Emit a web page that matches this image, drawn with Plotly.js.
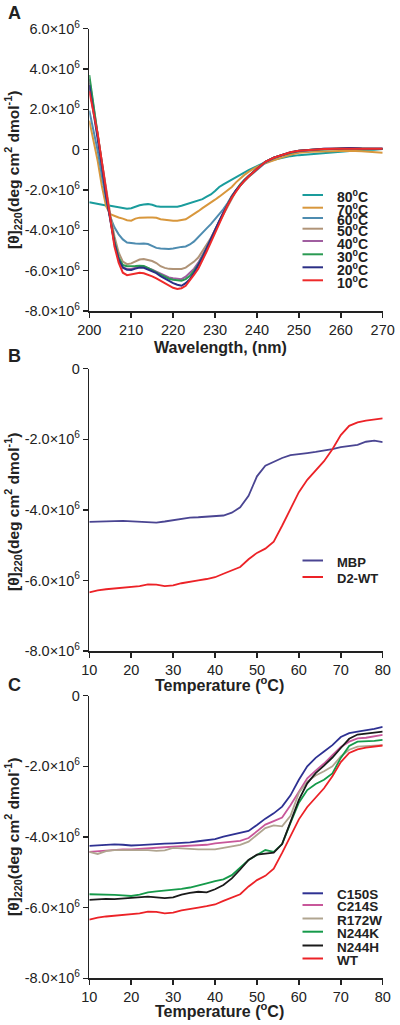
<!DOCTYPE html>
<html>
<head>
<meta charset="utf-8">
<script src="https://cdn.plot.ly/plotly-3.0.1.min.js"></script>
<style>html,body{margin:0;padding:0;background:#fff;}#chart{width:400px;height:1025px;}</style>
</head>
<body>
<div id="chart"></div>
<script>
// ---------- Panel A: CD spectra (units of 10^6 deg cm2 dmol-1) ----------
const wavelength = [200,201,202,203,204,205,206,207,208,209,210,211,212,213,214,215,216,217,218,219,220,221,222,223,224,225,226,227,228,229,230,231,232,233,234,235,236,237,238,240,242,244,246,248,250,253,256,259,262,265,268,270];
const spec80 = [-2.61,-2.65,-2.72,-2.75,-2.77,-2.78,-2.82,-2.85,-2.88,-2.93,-2.90,-2.82,-2.76,-2.72,-2.70,-2.73,-2.80,-2.83,-2.83,-2.84,-2.86,-2.83,-2.78,-2.72,-2.66,-2.60,-2.53,-2.45,-2.33,-2.22,-2.05,-1.85,-1.72,-1.60,-1.48,-1.35,-1.24,-1.12,-1.02,-0.82,-0.62,-0.50,-0.40,-0.32,-0.27,-0.22,-0.15,-0.10,-0.05,-0.02,0.00,0.03];
const spec70 = [1.44,0.45,-0.55,-1.80,-2.80,-3.20,-3.30,-3.36,-3.42,-3.50,-3.52,-3.42,-3.37,-3.35,-3.36,-3.36,-3.38,-3.45,-3.48,-3.50,-3.52,-3.52,-3.50,-3.45,-3.32,-3.20,-3.05,-2.90,-2.77,-2.63,-2.48,-2.33,-2.18,-2.03,-1.85,-1.62,-1.42,-1.25,-1.10,-0.85,-0.68,-0.52,-0.38,-0.25,-0.15,-0.10,-0.08,-0.05,-0.05,-0.08,-0.10,-0.15];
const spec60 = [1.94,0.95,-0.05,-1.30,-2.45,-3.35,-3.85,-4.20,-4.45,-4.60,-4.64,-4.65,-4.66,-4.65,-4.68,-4.78,-4.87,-4.90,-4.93,-4.93,-4.90,-4.85,-4.82,-4.80,-4.70,-4.55,-4.35,-4.12,-3.90,-3.69,-3.45,-3.20,-2.95,-2.65,-2.30,-2.03,-1.78,-1.55,-1.35,-1.00,-0.65,-0.42,-0.28,-0.15,-0.08,-0.03,0.02,0.03,0.05,0.03,0.05,0.05];
const spec50 = [3.30,2.00,0.60,-0.70,-2.00,-3.20,-4.30,-5.10,-5.55,-5.68,-5.64,-5.55,-5.45,-5.42,-5.46,-5.52,-5.62,-5.78,-5.86,-5.91,-5.92,-5.92,-5.92,-5.85,-5.72,-5.55,-5.35,-5.05,-4.70,-4.38,-4.00,-3.60,-3.20,-2.80,-2.40,-2.05,-1.78,-1.55,-1.35,-0.98,-0.62,-0.42,-0.28,-0.15,-0.06,-0.02,0.03,0.05,0.05,0.06,0.05,0.05];
const spec40 = [3.50,2.10,0.77,-0.70,-2.20,-3.40,-4.60,-5.40,-5.82,-5.92,-5.92,-5.86,-5.81,-5.80,-5.86,-5.95,-6.05,-6.15,-6.25,-6.34,-6.38,-6.40,-6.42,-6.30,-6.12,-5.90,-5.60,-5.25,-4.85,-4.40,-3.95,-3.50,-3.10,-2.70,-2.30,-2.00,-1.72,-1.50,-1.30,-0.96,-0.60,-0.40,-0.26,-0.14,-0.06,-0.01,0.05,0.06,0.08,0.05,0.06,0.05];
const spec30 = [3.70,2.20,0.80,-0.70,-2.20,-3.40,-4.55,-5.35,-5.72,-5.78,-5.79,-5.77,-5.75,-5.77,-5.86,-5.95,-6.08,-6.20,-6.30,-6.40,-6.45,-6.48,-6.50,-6.42,-6.25,-6.00,-5.70,-5.30,-4.90,-4.45,-4.00,-3.55,-3.12,-2.72,-2.32,-2.00,-1.72,-1.50,-1.30,-0.95,-0.60,-0.40,-0.26,-0.14,-0.05,0.00,0.04,0.05,0.06,0.04,0.05,0.04];
const spec20 = [3.20,1.90,0.60,-0.80,-2.30,-3.50,-4.65,-5.45,-5.85,-5.95,-5.97,-5.90,-5.84,-5.86,-5.95,-6.02,-6.12,-6.27,-6.40,-6.52,-6.62,-6.70,-6.75,-6.62,-6.42,-6.10,-5.75,-5.35,-4.90,-4.43,-3.98,-3.55,-3.12,-2.72,-2.35,-2.02,-1.75,-1.52,-1.32,-0.96,-0.60,-0.40,-0.26,-0.13,-0.05,0.00,0.05,0.05,0.08,0.06,0.04,0.05];
const spec10 = [2.90,1.90,0.80,-0.60,-2.00,-3.50,-4.80,-5.60,-6.10,-6.22,-6.18,-6.12,-6.10,-6.13,-6.20,-6.28,-6.38,-6.50,-6.62,-6.76,-6.85,-6.91,-6.87,-6.75,-6.50,-6.20,-5.90,-5.50,-5.05,-4.60,-4.12,-3.62,-3.15,-2.75,-2.38,-2.05,-1.78,-1.55,-1.33,-0.96,-0.60,-0.40,-0.26,-0.13,-0.05,0.00,0.03,0.05,0.06,0.05,0.05,0.05];
const specLabels = ['80<sup>0</sup>C','70<sup>0</sup>C','60<sup>0</sup>C','50<sup>0</sup>C','40<sup>0</sup>C','30<sup>0</sup>C','20<sup>0</sup>C','10<sup>0</sup>C'];

// ---------- Panels B and C: thermal melts at 220 nm ----------
const temperature = [10,12,14,16,18,20,22,24,26,28,30,32,34,36,38,40,42,44,46,48,50,52,54,56,58,60,62,64,66,68,70,72,74,76,78,80];
const mbp   = [-4.34,-4.34,-4.33,-4.32,-4.31,-4.32,-4.34,-4.36,-4.36,-4.33,-4.29,-4.24,-4.22,-4.21,-4.20,-4.18,-4.16,-4.08,-3.93,-3.60,-3.05,-2.75,-2.63,-2.53,-2.45,-2.41,-2.39,-2.36,-2.33,-2.28,-2.22,-2.20,-2.16,-2.07,-2.04,-2.08];
const d2wt  = [-6.34,-6.28,-6.25,-6.23,-6.20,-6.18,-6.16,-6.11,-6.12,-6.16,-6.14,-6.08,-6.05,-6.00,-5.96,-5.91,-5.81,-5.72,-5.62,-5.40,-5.22,-5.10,-4.90,-4.45,-3.98,-3.50,-3.15,-2.90,-2.62,-2.28,-1.88,-1.62,-1.52,-1.47,-1.43,-1.41];
const c150s = [-4.25,-4.23,-4.21,-4.21,-4.22,-4.24,-4.23,-4.21,-4.20,-4.19,-4.18,-4.17,-4.15,-4.12,-4.10,-4.06,-3.99,-3.93,-3.89,-3.83,-3.66,-3.48,-3.33,-3.14,-2.82,-2.38,-2.00,-1.76,-1.58,-1.40,-1.17,-1.06,-1.02,-0.99,-0.94,-0.88];
const c214s = [-4.42,-4.40,-4.37,-4.36,-4.35,-4.35,-4.34,-4.33,-4.31,-4.29,-4.27,-4.26,-4.25,-4.24,-4.22,-4.18,-4.15,-4.13,-4.11,-4.03,-3.85,-3.65,-3.55,-3.45,-3.10,-2.70,-2.34,-2.12,-1.92,-1.68,-1.45,-1.30,-1.21,-1.19,-1.16,-1.11];
const r172w = [-4.42,-4.48,-4.40,-4.37,-4.37,-4.37,-4.36,-4.37,-4.39,-4.38,-4.31,-4.33,-4.35,-4.35,-4.35,-4.35,-4.31,-4.27,-4.22,-4.13,-3.94,-3.75,-3.67,-3.70,-3.40,-2.75,-2.43,-2.26,-2.14,-2.00,-1.72,-1.53,-1.44,-1.42,-1.41,-1.40];
const n244k = [-5.62,-5.62,-5.63,-5.64,-5.65,-5.67,-5.63,-5.57,-5.54,-5.52,-5.50,-5.47,-5.43,-5.38,-5.31,-5.25,-5.20,-5.08,-4.86,-4.65,-4.51,-4.37,-4.42,-4.20,-3.60,-3.03,-2.67,-2.50,-2.38,-2.20,-1.76,-1.42,-1.30,-1.30,-1.28,-1.25];
const n244h = [-5.78,-5.76,-5.75,-5.76,-5.74,-5.73,-5.71,-5.69,-5.71,-5.73,-5.71,-5.63,-5.58,-5.55,-5.57,-5.48,-5.36,-5.17,-4.92,-4.65,-4.50,-4.46,-4.44,-4.20,-3.60,-2.95,-2.48,-2.19,-1.98,-1.75,-1.48,-1.22,-1.10,-1.07,-1.04,-1.02];
const wt    = d2wt;
const meltLabelsB = ['MBP','D2-WT'];
const meltLabelsC = ['C150S','C214S','R172W','N244K','N244H','WT'];

// tick labels
const tickA = [6,4,2,0,-2,-4,-6,-8];
const tickTextA = ['6.0×10<sup>6</sup>','4.0×10<sup>6</sup>','2.0×10<sup>6</sup>','0','-2.0×10<sup>6</sup>','-4.0×10<sup>6</sup>','-6.0×10<sup>6</sup>','-8.0×10<sup>6</sup>'];
const tickBC = [0,-2,-4,-6,-8];
const tickTextBC = ['0','-2.0×10<sup>6</sup>','-4.0×10<sup>6</sup>','-6.0×10<sup>6</sup>','-8.0×10<sup>6</sup>'];
const tickWl = [200,210,220,230,240,250,260,270];
const tickT = [10,20,30,40,50,60,70,80];

// ---------- styling ----------
const W = 400, H = 1025;
const px = x => x / W;
const py = y => 1 - y / H;
const FONT = 'Liberation Sans, Arial, Helvetica, sans-serif';
const INK = '#222';
const colA = ['#1a9c9c','#d8973c','#4e8cb0','#b09478','#a05ea0','#2a9a52','#2b2f86','#ee2a2a'];
const colB = ['#4a4592','#ec2227'];
const colC = ['#2e3192','#c8579a','#b0a590','#159a4a','#1a1a1a','#ec2227'];

const specSeries = [spec80,spec70,spec60,spec50,spec40,spec30,spec20,spec10];
const seriesB = [mbp,d2wt];
const seriesC = [c150s,c214s,r172w,n244k,n244h,wt];

const traces = [];
specSeries.forEach((s,i) => traces.push({x:wavelength,y:s,type:'scatter',mode:'lines',name:specLabels[i],xaxis:'x',yaxis:'y',line:{color:colA[i],width:2},showlegend:false}));
seriesB.forEach((s,i) => traces.push({x:temperature,y:s,type:'scatter',mode:'lines',name:meltLabelsB[i],xaxis:'x2',yaxis:'y2',line:{color:colB[i],width:1.8},showlegend:false}));
seriesC.forEach((s,i) => traces.push({x:temperature,y:s,type:'scatter',mode:'lines',name:meltLabelsC[i],xaxis:'x3',yaxis:'y3',line:{color:colC[i],width:1.8},showlegend:false}));

const xDom = [px(89.3), px(382.7)];
const TICKSIZE = 14.5;
function xAx(anchor, range, vals){
  return {domain:xDom, anchor:anchor, range:range, tickvals:vals, ticktext:vals.map(String), tickmode:'array',
    showline:true, linecolor:INK, linewidth:1.5, ticks:'outside', ticklen:5, tickwidth:1.5, tickcolor:INK,
    showgrid:false, zeroline:false, tickfont:{family:FONT,size:TICKSIZE,color:INK}, fixedrange:true};
}
function yAx(anchor, top, bottom, range, vals, text){
  return {domain:[py(bottom), py(top)], anchor:anchor, range:range, tickvals:vals, ticktext:text, tickmode:'array',
    showline:true, linecolor:INK, linewidth:1.5, ticks:'outside', ticklen:5, tickwidth:1.5, tickcolor:INK,
    showgrid:false, zeroline:false, tickfont:{family:FONT,size:TICKSIZE,color:INK}, fixedrange:true};
}

const annotations = [];
const shapes = [];
const yTitle = '<b>[θ]<sub>220</sub>(deg cm<sup>2</sup> dmol<sup>-1</sup>)</b>';
function addText(text, x, y, size, opts){
  annotations.push(Object.assign({text:text, xref:'paper', yref:'paper', x:px(x), y:py(y), showarrow:false,
    xanchor:'center', yanchor:'middle', font:{family:FONT,size:size,color:INK}}, opts||{}));
}
// panel letters
addText('<b>A</b>', 14, 13, 18);
addText('<b>B</b>', 14, 356, 18);
addText('<b>C</b>', 14, 685, 18);
// y titles
addText(yTitle, 13, 170, 15.5, {textangle:-90});
addText(yTitle, 13, 512, 15.5, {textangle:-90});
addText(yTitle, 13, 837, 15.5, {textangle:-90});
// x titles
addText('<b>Wavelength, (nm)</b>', 220, 347, 16);
addText('<b>Temperature (<sup>o</sup>C)</b>', 219, 684, 16);
addText('<b>Temperature (<sup>o</sup>C)</b>', 219, 1010, 16);

// manual legends (compact spacing as in the figure)
function legend(labels, colors, ys, size){
  labels.forEach((lab,i) => {
    shapes.push({type:'line', xref:'paper', yref:'paper', x0:px(302.5), x1:px(323), y0:py(ys[i]), y1:py(ys[i]),
      line:{color:colors[i], width:2}});
    addText('<b>'+lab+'</b>', 335, ys[i]+1.5, size, {xanchor:'left'});
  });
}
legend(specLabels, colA, [195,207.7,218,228.7,241,254.3,267.3,280.3], 14);
legend(meltLabelsB, colB, [560.5,577], 13);
legend(meltLabelsC, colC, [893.3,905,918.5,931.7,945.5,958.5], 13.5);

const layout = {
  width:W, height:H, margin:{l:0,r:0,t:0,b:0}, paper_bgcolor:'#fff', plot_bgcolor:'#fff',
  showlegend:false, font:{family:FONT,color:INK},
  xaxis: xAx('y',[200,270],tickWl),
  yaxis: yAx('x',28.7,311,[-8,6],tickA,tickTextA),
  xaxis2: xAx('y2',[10,80],tickT),
  yaxis2: yAx('x2',368.7,651,[-8,0],tickBC,tickTextBC),
  xaxis3: xAx('y3',[10,80],tickT),
  yaxis3: yAx('x3',695.7,978.3,[-8,0],tickBC,tickTextBC),
  annotations:annotations, shapes:shapes
};
Plotly.newPlot('chart', traces, layout, {staticPlot:true, displayModeBar:false});
</script>
</body>
</html>
